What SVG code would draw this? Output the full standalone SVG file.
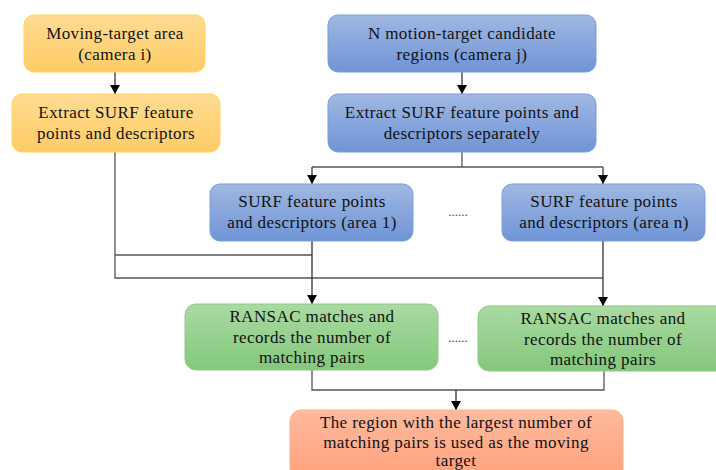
<svg xmlns="http://www.w3.org/2000/svg" width="716" height="470" viewBox="0 0 716 470">
<defs>
<linearGradient id="gY" x1="0" y1="0" x2="0" y2="1"><stop offset="0" stop-color="#FFDC92"/><stop offset="1" stop-color="#FFCC66"/></linearGradient>
<linearGradient id="gB" x1="0" y1="0" x2="0" y2="1"><stop offset="0" stop-color="#A0B8E2"/><stop offset="1" stop-color="#6F94D6"/></linearGradient>
<linearGradient id="gG" x1="0" y1="0" x2="0" y2="1"><stop offset="0" stop-color="#A9DAA2"/><stop offset="1" stop-color="#84C87C"/></linearGradient>
<linearGradient id="gO" x1="0" y1="0" x2="0" y2="1"><stop offset="0" stop-color="#FFBA9E"/><stop offset="1" stop-color="#FFA17C"/></linearGradient>
<marker id="arr" markerWidth="10" markerHeight="10" refX="9" refY="5" orient="auto" markerUnits="userSpaceOnUse" viewBox="0 0 10 10"><path d="M0,0 L9,5 L0,10 Z" fill="#000"/></marker>
</defs>
<style>
text{font-family:"Liberation Serif","Times New Roman",serif;font-size:17px;fill:#111;text-anchor:middle;letter-spacing:0.4px}
.y{fill:url(#gY);stroke:#FFD458;stroke-width:1}
.b{fill:url(#gB);stroke:#7A9DDB;stroke-width:1}
.g{fill:url(#gG);stroke:#8CCB84;stroke-width:1}
.o{fill:url(#gO);stroke:#FFAE88;stroke-width:1}
.ln{fill:none;stroke:#555;stroke-width:1.3}
.ar{fill:none;stroke:#333;stroke-width:1.3;marker-end:url(#arr)}
.dots{font-size:13px;fill:#444;letter-spacing:0}
</style>
<g id="connectors">
<line class="ar" x1="115" y1="72" x2="115" y2="94"/>
<line class="ar" x1="462" y1="72" x2="462" y2="94"/>
<polyline class="ln" points="462,152 462,167"/>
<polyline class="ar" points="312,167 312,184"/>
<polyline class="ar" points="603,167 603,184"/>
<line class="ln" x1="312" y1="167" x2="603" y2="167"/>
<polyline class="ln" points="115,152 115,278 603,278"/>
<line class="ln" x1="115" y1="255" x2="312" y2="255"/>
<line class="ar" x1="312" y1="241" x2="312" y2="304"/>
<line class="ar" x1="603" y1="241" x2="603" y2="306"/>
<polyline class="ln" points="312,370 312,390 604,390 604,371"/>
<line class="ar" x1="456" y1="390" x2="456" y2="410"/>
</g>
<g id="n1"><rect class="y" x="24" y="15" width="181" height="57" rx="10"/><text x="115" y="39">Moving-target area</text><text x="115" y="60">(camera i)</text></g>
<g id="n2"><rect class="y" x="12" y="94" width="208" height="58" rx="10"/><text x="116" y="118">Extract SURF feature</text><text x="116" y="139">points and descriptors</text></g>
<g id="n3"><rect class="b" x="328" y="15" width="268" height="57" rx="10"/><text x="462" y="39">N motion-target candidate</text><text x="462" y="60">regions (camera j)</text></g>
<g id="n4"><rect class="b" x="328" y="94" width="268" height="58" rx="10"/><text x="462" y="118">Extract SURF feature points and</text><text x="462" y="139">descriptors separately</text></g>
<g id="n5"><rect class="b" x="210" y="184" width="203" height="57" rx="10"/><text x="312" y="207">SURF feature points</text><text x="312" y="228">and descriptors (area 1)</text></g>
<g id="n6"><rect class="b" x="502" y="184" width="203" height="57" rx="10"/><text x="604" y="207">SURF feature points</text><text x="604" y="228">and descriptors (area n)</text></g>
<text class="dots" x="458" y="216">......</text>
<g id="n7"><rect class="g" x="185" y="304" width="253" height="66" rx="11"/><text x="312" y="322">RANSAC matches and</text><text x="312" y="343">records the number of</text><text x="312" y="363">matching pairs</text></g>
<g id="n8"><rect class="g" x="478" y="306" width="253" height="65" rx="11"/><text x="603" y="324">RANSAC matches and</text><text x="603" y="345">records the number of</text><text x="603" y="365">matching pairs</text></g>
<text class="dots" x="458" y="342">......</text>
<g id="n9"><rect class="o" x="290" y="410" width="333" height="70" rx="11"/><text x="456" y="428">The region with the largest number of</text><text x="456" y="448">matching pairs is used as the moving</text><text x="456" y="466">target</text></g>
</svg>
